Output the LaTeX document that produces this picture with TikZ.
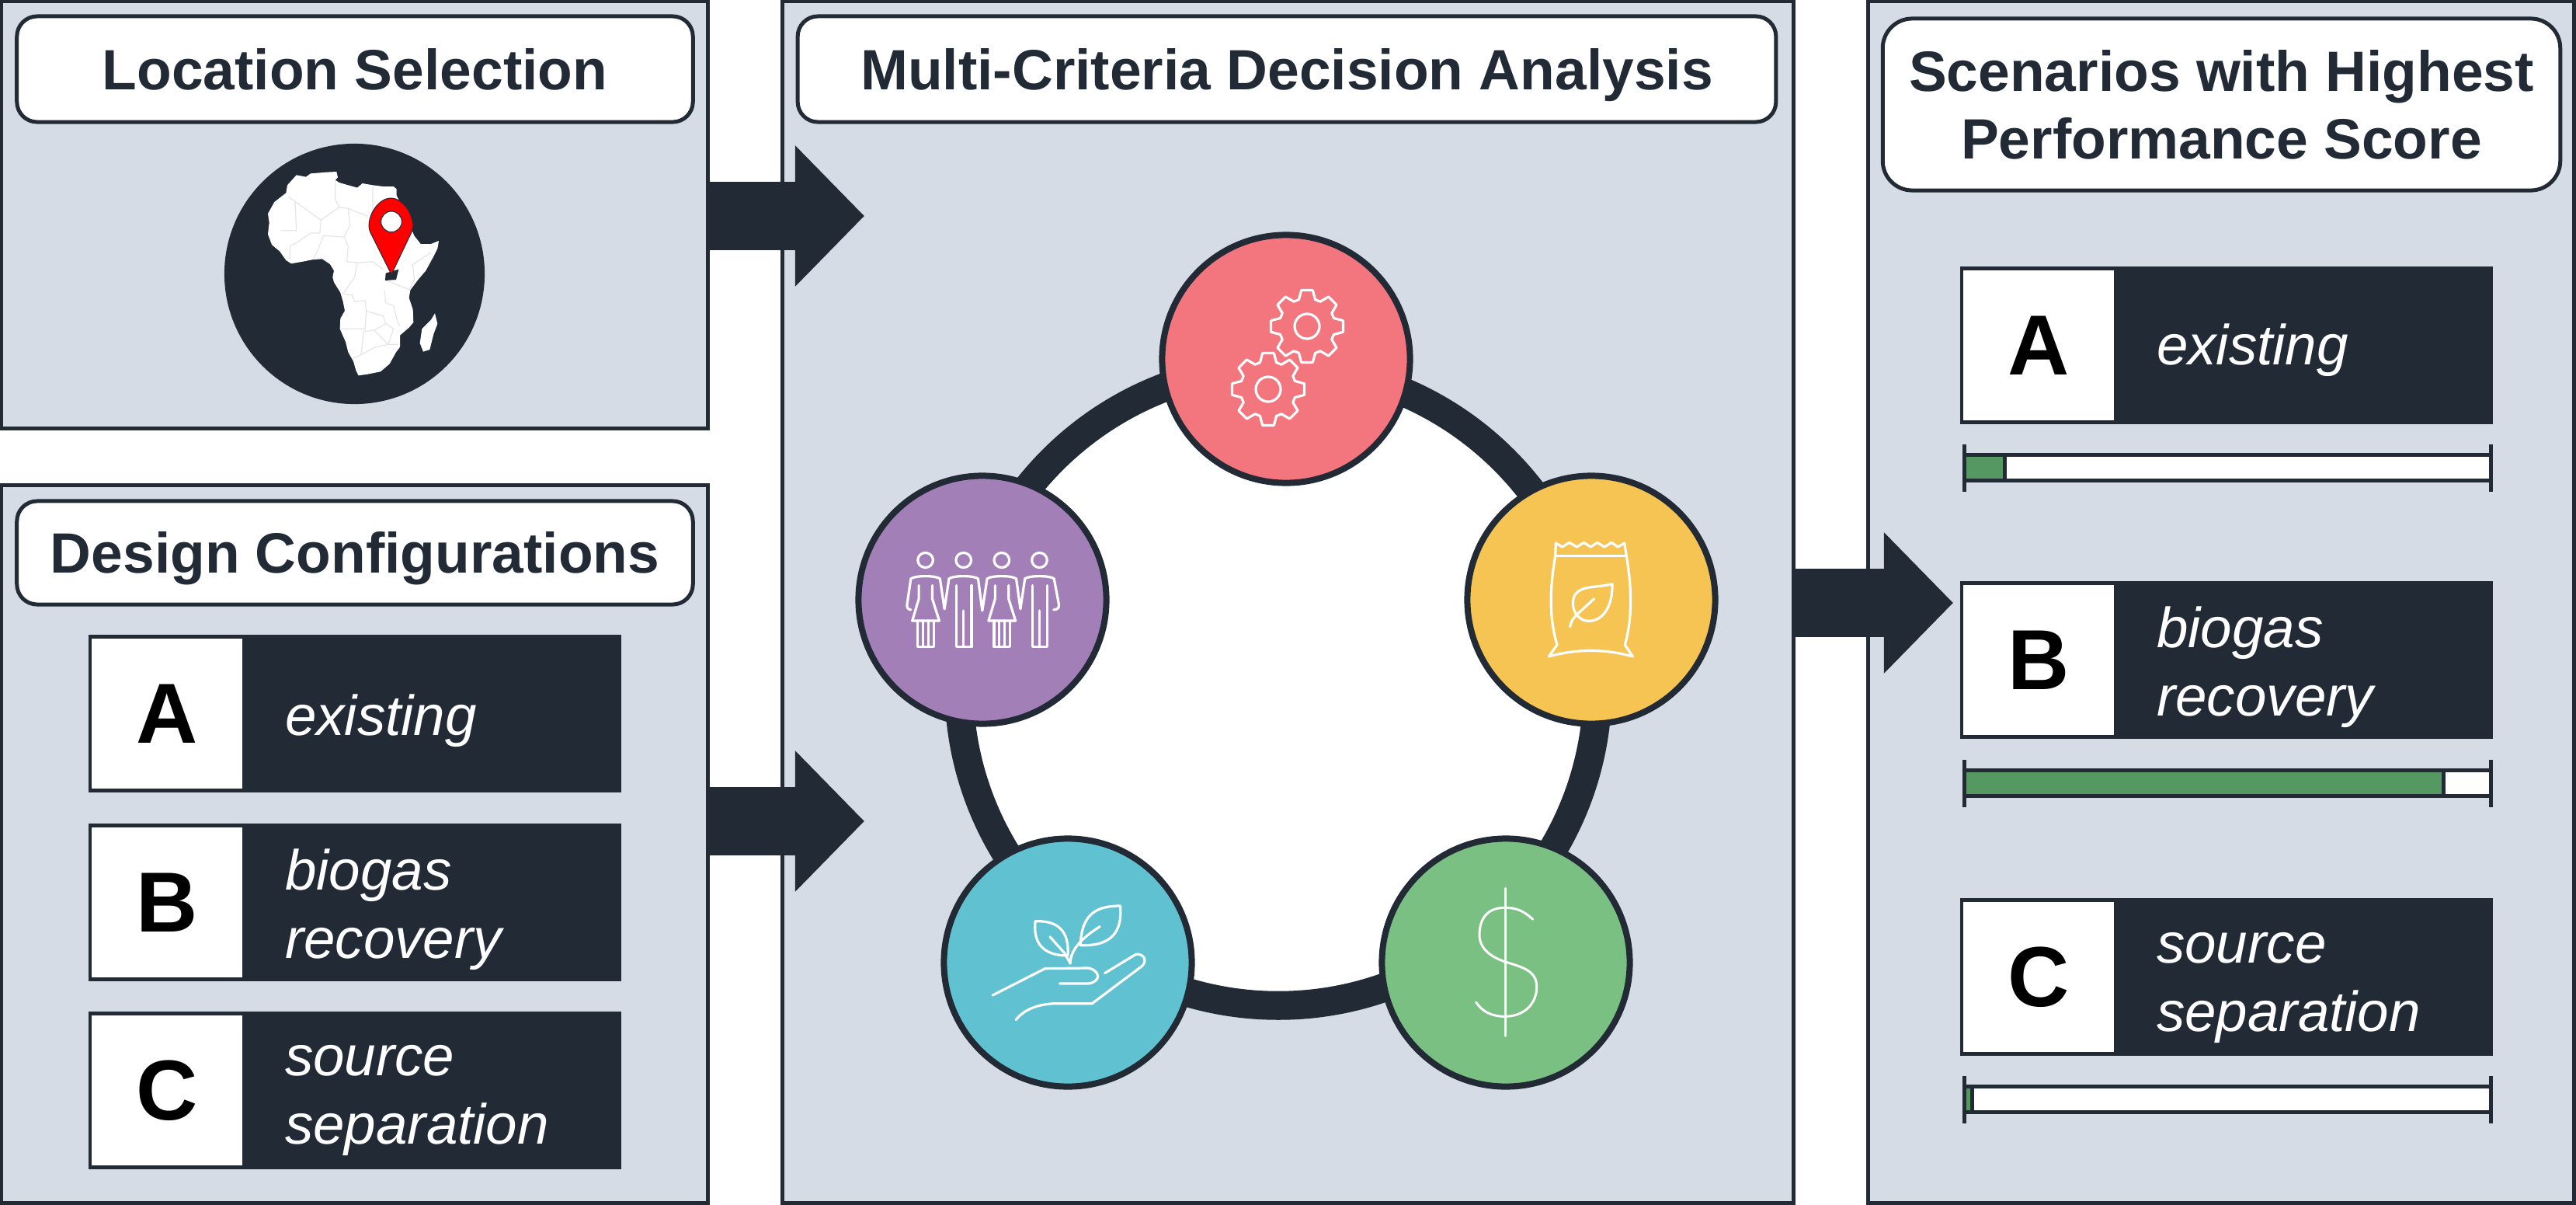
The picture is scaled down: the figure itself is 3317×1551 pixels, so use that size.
\documentclass[tikz,border=0pt]{standalone}
\usepackage{fontspec}
\setmainfont{Liberation Sans}
\usetikzlibrary{arrows.meta}
\definecolor{dk}{HTML}{222A36}
\definecolor{pnl}{HTML}{D5DCE6}
\definecolor{cred}{HTML}{F3767E}
\definecolor{cpur}{HTML}{A37FB8}
\definecolor{cyel}{HTML}{F5C452}
\definecolor{ctea}{HTML}{60C1D1}
\definecolor{cgrn}{HTML}{7BC083}
\definecolor{bargrn}{HTML}{569861}
\definecolor{bord}{HTML}{E4E6E8}
\tikzset{
 panelbox/.style={draw=dk,fill=pnl,line width=0.05cm,rectangle,inner sep=0,outer sep=0},
 titlebox/.style={draw=dk,fill=white,line width=0.05cm,rectangle,rounded corners=0.26cm,inner sep=0,outer sep=0,
   font=\fontsize{20.8}{24.8}\selectfont\bfseries,text=dk,align=center},
 itemdark/.style={fill=dk,rectangle,inner sep=0,outer sep=0,minimum width=6.86cm,minimum height=2.03cm},
 itemwhite/.style={fill=white,rectangle,inner sep=0,outer sep=0,minimum width=1.93cm,minimum height=1.93cm,
   font=\fontsize{31.2}{33}\selectfont\bfseries,text=black},
 itemtext/.style={inner sep=0,outer sep=0,anchor=base west,align=left,text=white,
   font=\fontsize{20.7}{25}\selectfont\itshape},
 crit/.style={circle,draw=dk,line width=0.08cm,inner sep=0,outer sep=0,minimum size=3.19cm},
 ringnode/.style={circle,draw=dk,fill=white,line width=0.37cm,inner sep=0,minimum size=8.22cm},
 blockarrow/.style={draw=dk,fill=dk,line width=0.87cm,-{Triangle[length=0.89cm,width=1.76cm]}},
 icon/.style={draw=white,line width=0.032cm,line join=round,line cap=round},
}
\newcommand{\itembox}[6]{%
 \node[itemdark] (#1d) at ({#2+343},{#3+101.5}) {};
 \node[itemwhite] (#1w) at ({#2+101},{#3+101.5}) {#4};
 \node[itemtext] (#1t) at ({#2+253},{#3+#6}) {#5};
}
\newcommand{\scorebar}[2]{%
 \fill[dk] (2529,{#1-19}) rectangle (3207,{#1+19});
 \fill[white] (2532,{#1-14}) rectangle (3205,{#1+14});
 \fill[dk] (2532,{#1-14}) rectangle ({#2+5},{#1+14});
 \fill[bargrn] (2532,{#1-14}) rectangle (#2,{#1+14});
 \draw[dk,line width=0.05cm] (2529.5,{#1-30.5}) -- (2529.5,{#1+30.5});
 \draw[dk,line width=0.05cm] (3207.5,{#1-30.5}) -- (3207.5,{#1+30.5});
}
\newcommand{\gearicon}[2]{%
 \begin{scope}[shift={(#1,#2)}]
 \draw[icon] (-17:36) \foreach \a in {0,45,...,315} {-- ({\a-17}:36) -- ({\a-9}:47) -- ({\a+9}:47) -- ({\a+17}:36)} -- cycle;
 \draw[icon] (0,0) circle[radius=16];
 \end{scope}
}
\newcommand{\womanicon}[1]{%
 \begin{scope}[shift={(#1,0)}]
 \draw[icon] (0,1040) ellipse (22 and 22);
 \draw[icon] (-19,1115) -- (-19,1155) -- (-38,1220) -- (40,1220) -- (20,1155) -- (20,1115);
 \draw[icon] (-22,1220) -- (-22,1298) -- (24,1298) -- (24,1220);
 \draw[icon] (-7,1220) -- (-7,1298) (8,1220) -- (8,1298);
 \end{scope}
}
\newcommand{\manicon}[1]{%
 \begin{scope}[shift={(#1,0)}]
 \draw[icon] (0,1040) ellipse (22 and 22);
 \draw[icon] (-20,1115) -- (-20,1298) -- (23,1298) -- (23,1115);
 \draw[icon] (0,1190) -- (0,1298);
 \end{scope}
}
\begin{document}
\begin{tikzpicture}[x=0.01cm,y=-0.01cm]
\useasboundingbox (0,0) rectangle (3317,1551);
\fill[white] (0,0) rectangle (3317,1551);
% panels
\node[panelbox,minimum width=9.095cm,minimum height=5.49cm] (panelA) at (456.75,276.5) {};
\node[panelbox,minimum width=9.095cm,minimum height=9.235cm] (panelB) at (456.75,1086.75) {};
\node[panelbox,minimum width=13.015cm,minimum height=15.465cm] (panelC) at (1658.25,775.25) {};
\node[panelbox,minimum width=9.085cm,minimum height=15.465cm] (panelD) at (2860.25,775.25) {};
% titles
\node[titlebox,minimum width=8.70cm,minimum height=1.36cm,text height=14.9pt,text depth=0pt] (tA) at (457,89) {Location Selection};
\node[titlebox,minimum width=8.70cm,minimum height=1.33cm,text height=14.9pt,text depth=0pt] (tB) at (457,711.5) {Design Configurations};
\node[titlebox,minimum width=12.59cm,minimum height=1.36cm,text height=14.9pt,text depth=0pt] (tC) at (1657,89) {Multi-Criteria Decision Analysis};
\node[titlebox,rounded corners=0.38cm,minimum width=8.72cm,minimum height=2.21cm] (tD) at (2860.5,134.5) {Scenarios with Highest\\Performance Score};
% block arrows
\coordinate (tip1) at (1113,278);
\coordinate (tip2) at (1113,1057);
\coordinate (tip3) at (2515,776);
\draw[blockarrow] (panelA.east |- tip1) -- (tip1);
\draw[blockarrow] (panelB.east |- tip2) -- (tip2);
\draw[blockarrow] (panelC.east |- tip3) -- (tip3);
% globe
\node[circle,fill=dk,inner sep=0,minimum size=3.35cm] (globe) at (456.5,352.5) {};
\begin{scope}[shift={(240,160)},scale=0.33333]
\fill[white,line join=round] (425,196)--(462,203)--(480,190)--(540,185)--(580,183)--(585,205)--(575,215)--(590,225)--(625,235)--(660,245)--(680,228)--(720,235)--(760,240)--(800,240)--(812,250)--(812,275)--(835,320)--(860,380)--(880,430)--(905,462)--(945,462)--(975,450)--(970,480)--(955,510)--(925,565)--(895,600)--(865,640)--(860,670)--(875,715)--(877,765)--(860,785)--(825,815)--(825,860)--(810,880)--(785,925)--(750,955)--(700,965)--(665,970)--(655,950)--(645,915)--(625,880)--(615,840)--(593,790)--(595,750)--(612,720)--(605,685)--(595,650)--(570,610)--(565,590)--(570,565)--(555,540)--(525,520)--(490,522)--(450,530)--(405,538)--(385,525)--(360,490)--(330,465)--(315,425)--(320,380)--(315,345)--(340,300)--(385,265)--(390,235)--cycle;
\fill[white] (960,730)--(970,770)--(955,810)--(940,870)--(915,878)--(902,845)--(910,790)--(945,755)--cycle;
\draw[bord,line width=0.012cm]
 (395,280)--(520,370)--(590,320)--(575,290)--(575,215)
 (420,300)--(425,410)--(365,410)
 (520,370)--(515,420)--(480,420)--(430,455)--(400,470)--(400,520)
 (590,320)--(625,325)--(700,355)
 (625,325)--(632,390)--(610,435)--(530,430)--(510,480)--(490,522)
 (720,240)--(720,350)
 (610,435)--(625,470)--(620,530)--(660,535)--(650,590)--(605,655)--(640,660)--(650,685)--(690,680)--(695,720)--(690,790)--(595,790)
 (660,535)--(720,530)--(760,560)
 (690,720)--(760,740)--(770,770)--(725,795)--(685,800)--(675,890)--(640,905)
 (770,690)--(800,700)--(815,760)--(825,780)
 (765,640)--(770,690)
 (725,795)--(780,850)--(800,790)--(770,770)
 (675,890)--(730,860)--(780,850)--(820,850)
 (875,545)--(880,600)--(860,640)
 (870,545)--(945,495)
 (765,600)--(865,640);
\fill[dk] (770,575)--(820,560)--(810,600)--(768,603)--cycle;
\draw[draw=dk,fill=red,line width=0.01cm] (792,580)--(710,416) .. controls (690,370) and (735,285) .. (790,285) .. controls (845,285) and (890,370) .. (870,416) -- cycle;
\draw[draw=dk,fill=white,line width=0.01cm] (792,376) circle[radius=40];
\end{scope}
% left items
\itembox{lA}{114}{817}{A}{existing}{129}
\itembox{lB}{114}{1060}{B}{biogas\\recovery}{173}
\itembox{lC}{114}{1302}{C}{source\\separation}{170}
% right items
\itembox{rA}{2524}{343}{A}{existing}{126}
\itembox{rB}{2524}{748}{B}{biogas\\recovery}{173}
\itembox{rC}{2524}{1156}{C}{source\\separation}{171}
\scorebar{602}{2579}
\scorebar{1008}{3144}
\scorebar{1415}{2537}
% ring and criteria
\node[ringnode] (ring) at (1646,883) {};
\node[crit,fill=cred] (cA) at (1656,462) {};
\node[crit,fill=cpur] (cB) at (1265,772) {};
\node[crit,fill=cyel] (cC) at (2049,772) {};
\node[crit,fill=ctea] (cD) at (1375,1239) {};
\node[crit,fill=cgrn] (cE) at (1939,1239) {};
% gears
\gearicon{1683}{420}
\gearicon{1633}{501}
% people
\begin{scope}[shift={(1080,270)},xscale=0.44643,yscale=0.43365]
\womanicon{250}\manicon{360}\womanicon{470}\manicon{579}
\draw[icon] (208,1187) .. controls (200,1187) and (196,1180) .. (197,1172) -- (208,1095) .. controls (220,1085) and (280,1085) .. (292,1095) -- (305,1185) -- (318,1095) .. controls (330,1085) and (390,1085) .. (402,1095) -- (414,1190) -- (428,1095) .. controls (440,1085) and (500,1085) .. (512,1095) -- (524,1185) -- (537,1095) .. controls (549,1085) and (609,1085) .. (621,1095) -- (635,1172) .. controls (636,1182) and (630,1187) .. (620,1187);
\end{scope}
% bag
\begin{scope}[shift={(1860,600)},scale=0.33333]
\draw[icon] (430,297)--(455,312)--(482,295)--(512,312)--(538,295)--(565,312)--(590,295)--(618,312)--(645,295)--(670,312)--(695,297)--(703,347) .. controls (725,480) and (725,590) .. (697,690) -- (727,735) .. controls (620,705) and (510,705) .. (403,735) -- (435,690) .. controls (405,590) and (405,480) .. (428,347) -- cycle;
\draw[icon] (428,347)--(703,347);
\draw[icon] (648,455) .. controls (590,470) and (530,460) .. (505,495) .. controls (480,540) and (510,600) .. (560,598) .. controls (620,595) and (650,530) .. (648,455) -- cycle;
\draw[icon] (485,620) .. controls (490,590) and (510,575) .. (520,565) -- (578,512);
\end{scope}
% hand
\begin{scope}[shift={(1180,1040)},xscale=0.625,yscale=0.33333]
\draw[icon] (157,723) -- (265,620) -- (355,618) .. controls (380,630) and (380,670) .. (355,678) -- (295,678);
\draw[icon] (205,818) .. controls (225,770) and (260,755) .. (290,755) -- (362,755) -- (465,610) .. controls (478,585) and (465,560) .. (452,565) -- (388,638);
\draw[icon] (420,378) .. controls (370,378) and (340,410) .. (338,530) .. controls (400,535) and (425,480) .. (420,378) -- cycle;
\draw[icon] (378,458) .. controls (350,490) and (317,540) .. (317,600);
\draw[icon] (245,437) .. controls (240,520) and (260,570) .. (312,570) .. controls (315,470) and (290,435) .. (245,437) -- cycle;
\draw[icon] (275,497) -- (305,560) -- (317,600);
\end{scope}
% dollar
\begin{scope}[shift={(1180,1040)},xscale=0.625,yscale=0.33333]
\draw[icon,line width=0.03cm] (1214,310) -- (1214,880);
\draw[icon,line width=0.03cm] (1270,430) .. controls (1250,395) and (1235,385) .. (1212,385) .. controls (1175,385) and (1160,430) .. (1160,490) .. controls (1160,550) and (1190,580) .. (1215,595) .. controls (1250,615) and (1278,630) .. (1278,690) .. controls (1278,760) and (1250,805) .. (1212,805) .. controls (1185,805) and (1165,785) .. (1153,750);
\end{scope}
\end{tikzpicture}
\end{document}
